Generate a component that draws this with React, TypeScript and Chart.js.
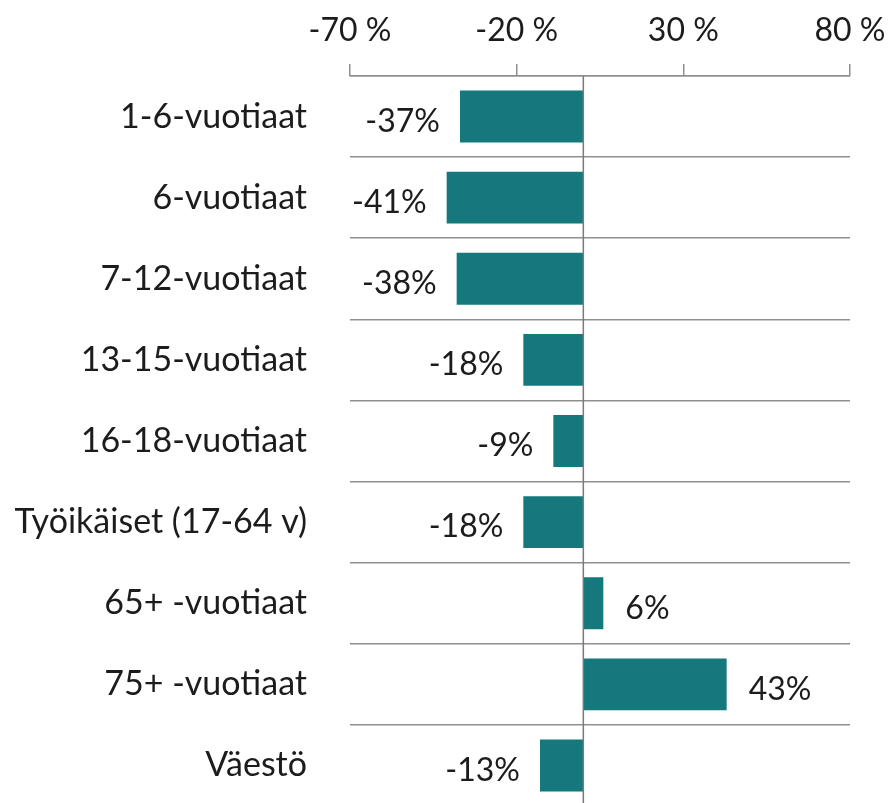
import React, { useEffect, useRef } from "react";
import { Chart, registerables } from "chart.js";

Chart.register(...registerables);

const categories = [
  "1-6-vuotiaat",
  "6-vuotiaat",
  "7-12-vuotiaat",
  "13-15-vuotiaat",
  "16-18-vuotiaat",
  "Työikäiset (17-64 v)",
  "65+ -vuotiaat",
  "75+ -vuotiaat",
  "Väestö",
];
const changes = [-37, -41, -38, -18, -9, -18, 6, 43, -13];
const axisMin = -70;
const axisMax = 80;
const axisStep = 50;

const FONT = "Lato, 'Open Sans', sans-serif";
const BAR = "#15787c";
const TEXT = "#1c1c1c";
const GRID = "#8f8f8f";

const zeroLine = {
  id: "zeroLine",
  afterDatasetsDraw(chart: any) {
    const { ctx, chartArea, scales } = chart;
    const x = scales.x.getPixelForValue(0);
    ctx.save();
    ctx.strokeStyle = "#7a7a7a";
    ctx.lineWidth = 1.5;
    ctx.beginPath();
    ctx.moveTo(x, chartArea.top);
    ctx.lineTo(x, chartArea.bottom);
    ctx.stroke();
    ctx.restore();
  },
};

const valueLabels = {
  id: "valueLabels",
  afterDatasetsDraw(chart: any) {
    const { ctx } = chart;
    const meta = chart.getDatasetMeta(0);
    const data = chart.data.datasets[0].data as number[];
    ctx.save();
    ctx.font = `32px ${FONT}`;
    ctx.fillStyle = TEXT;
    ctx.textBaseline = "middle";
    meta.data.forEach((bar: any, i: number) => {
      const v = data[i];
      const label = `${v}%`;
      if (v < 0) {
        ctx.textAlign = "right";
        ctx.fillText(label, bar.x - 20, bar.y + 5);
      } else {
        ctx.textAlign = "left";
        ctx.fillText(label, bar.x + 22, bar.y + 5);
      }
    });
    ctx.restore();
  },
};

export default function App() {
  const ref = useRef<HTMLCanvasElement>(null);
  useEffect(() => {
    if (!ref.current) return;
    const chart = new Chart(ref.current, {
      type: "bar",
      data: {
        labels: categories,
        datasets: [
          {
            data: changes,
            backgroundColor: BAR,
            barPercentage: 0.64,
            categoryPercentage: 1,
          },
        ],
      },
      options: {
        indexAxis: "y",
        responsive: true,
        maintainAspectRatio: false,
        animation: false,
        layout: { padding: { left: 0, right: 44, top: 0, bottom: 5 } },
        plugins: {
          legend: { display: false },
          tooltip: { enabled: false },
        },
        scales: {
          x: {
            position: "top",
            min: axisMin,
            max: axisMax,
            ticks: {
              stepSize: axisStep,
              padding: 14,
              color: TEXT,
              font: { family: FONT, size: 32 },
              callback: (v: any) => `${v} %`,
            },
            grid: {
              drawOnChartArea: false,
              drawTicks: true,
              tickLength: 12,
              color: GRID,
              lineWidth: 1.5,
            },
            border: { display: true, color: GRID, width: 1.5 },
            afterFit: (s: any) => {
              s.height = 76;
              s.paddingLeft = 0;
              s.paddingRight = 0;
            },
          },
          y: {
            ticks: {
              padding: 43,
              color: TEXT,
              font: { family: FONT, size: 34 },
            },
            grid: {
              drawTicks: false,
              color: GRID,
              lineWidth: 1.5,
            },
            border: { display: false },
            afterFit: (s: any) => {
              s.width = 350;
              s.paddingTop = 0;
              s.paddingBottom = 0;
            },
          },
        },
      },
      plugins: [zeroLine, valueLabels],
    });
    return () => chart.destroy();
  }, []);
  return (
    <div style={{ position: "fixed", left: 0, top: 0, width: 894, height: 811, background: "#fff" }}>
      <canvas ref={ref} />
    </div>
  );
}
